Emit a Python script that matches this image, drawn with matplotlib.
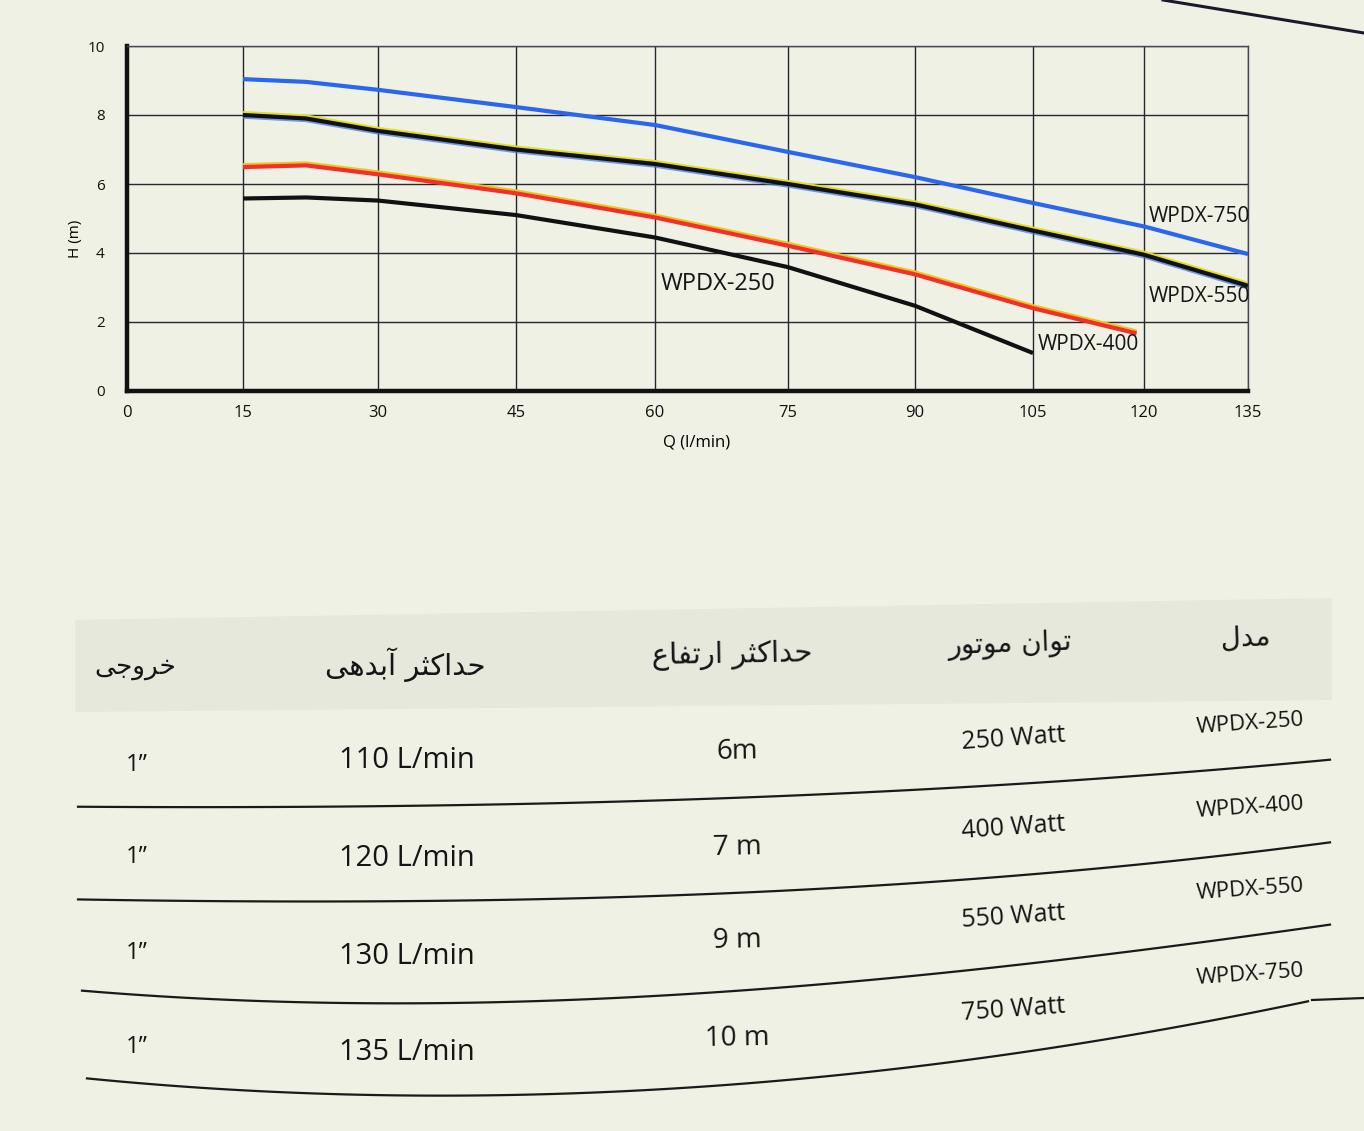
import matplotlib
matplotlib.use('Agg')
import numpy as np
import matplotlib.pyplot as plt
import matplotlib.patheffects as pe
from matplotlib.lines import Line2D
from matplotlib.patches import Polygon

# ---------------- chart data ----------------
q_250 = [15, 22, 30, 45, 60, 75, 90, 105]
h_250 = [5.58, 5.61, 5.52, 5.10, 4.45, 3.59, 2.47, 1.10]
q_400 = [15, 22, 30, 45, 60, 75, 90, 105, 119]
h_400 = [6.49, 6.54, 6.28, 5.73, 5.03, 4.21, 3.38, 2.40, 1.67]
q_550 = [15, 22, 30, 45, 60, 75, 90, 105, 120, 135]
h_550 = [8.00, 7.90, 7.54, 7.00, 6.58, 6.00, 5.41, 4.65, 3.95, 3.05]
q_750 = [15, 22, 30, 45, 60, 75, 90, 105, 120, 135]
h_750 = [9.04, 8.96, 8.73, 8.23, 7.71, 6.93, 6.20, 5.45, 4.77, 3.97]
x_ticks = [0, 15, 30, 45, 60, 75, 90, 105, 120, 135]
y_ticks = [0, 2, 4, 6, 8, 10]
curve_labels = ['WPDX-250', 'WPDX-400', 'WPDX-550', 'WPDX-750']

# ---------------- table data ----------------
headers = ['مدل', 'توان موتور', 'حداکثر ارتفاع', 'حداکثر آبدهی', 'خروجی']
models = ['WPDX-250', 'WPDX-400', 'WPDX-550', 'WPDX-750']
power = ['250 Watt', '400 Watt', '550 Watt', '750 Watt']
max_head = ['6m', '7 m', '9 m', '10 m']
max_flow = ['110 L/min', '120 L/min', '130 L/min', '135 L/min']
outlet = ['1”', '1”', '1”', '1”']

# ---------------- Persian shaping helper ----------------
FORMS = {
    'ا': ('\uFE8D', '\uFE8E', None, None),
    'آ': ('\uFE81', '\uFE82', None, None),
    'ب': ('\uFE8F', '\uFE90', '\uFE91', '\uFE92'),
    'ت': ('\uFE95', '\uFE96', '\uFE97', '\uFE98'),
    'ث': ('\uFE99', '\uFE9A', '\uFE9B', '\uFE9C'),
    'ج': ('\uFE9D', '\uFE9E', '\uFE9F', '\uFEA0'),
    'ح': ('\uFEA1', '\uFEA2', '\uFEA3', '\uFEA4'),
    'خ': ('\uFEA5', '\uFEA6', '\uFEA7', '\uFEA8'),
    'د': ('\uFEA9', '\uFEAA', None, None),
    'ر': ('\uFEAD', '\uFEAE', None, None),
    'ع': ('\uFEC9', '\uFECA', '\uFECB', '\uFECC'),
    'ف': ('\uFED1', '\uFED2', '\uFED3', '\uFED4'),
    'ل': ('\uFEDD', '\uFEDE', '\uFEDF', '\uFEE0'),
    'م': ('\uFEE1', '\uFEE2', '\uFEE3', '\uFEE4'),
    'ن': ('\uFEE5', '\uFEE6', '\uFEE7', '\uFEE8'),
    'ه': ('\uFEE9', '\uFEEA', '\uFEEB', '\uFEEC'),
    'و': ('\uFEED', '\uFEEE', None, None),
    'ک': ('\uFB8E', '\uFB8F', '\uFB90', '\uFB91'),
    'ی': ('\uFBFC', '\uFBFD', '\uFBFE', '\uFBFF'),
}
RIGHT_ONLY = set('اآدذرزژو')


def shape(text):
    out = []
    n = len(text)
    for i, ch in enumerate(text):
        if ch not in FORMS:
            out.append(ch)
            continue
        prev = text[i - 1] if i > 0 else ''
        nxt = text[i + 1] if i < n - 1 else ''
        jp = prev in FORMS and prev not in RIGHT_ONLY
        jn = ch not in RIGHT_ONLY and nxt in FORMS
        iso, fin, ini, med = FORMS[ch]
        if jp and jn:
            g = med
        elif jp:
            g = fin
        elif jn:
            g = ini
        else:
            g = iso
        out.append(g)
    return ''.join(reversed(out))


# ---------------- figure ----------------
W, H = 1364, 1131
BG = '#eef1e3'
LATIN = ['Open Sans', 'DejaVu Sans']
fig = plt.figure(figsize=(W / 100, H / 100), dpi=100, facecolor=BG)


def fx(x):
    return x / W


def fy(y):
    return 1 - y / H


AX_L, AX_R, AX_T, AX_B = 127, 1248, 46, 391
ax = fig.add_axes([fx(AX_L), fy(AX_B), fx(AX_R) - fx(AX_L), fy(AX_T) - fy(AX_B)])
ax.set_facecolor(BG)

# printed grid spacing (uneven columns as on the page)
grid_px = np.array([127, 243, 378, 516, 655, 788, 915, 1033, 1144, 1248], dtype=float)
tick_arr = np.array(x_ticks, dtype=float)
ax.set_xscale('function', functions=(lambda q: np.interp(q, tick_arr, grid_px),
                                     lambda p: np.interp(p, grid_px, tick_arr)))
ax.set_xlim(0, 135)
ax.set_ylim(0, 10)
ax.set_xticks(x_ticks)
ax.set_yticks(y_ticks)
ax.set_xticklabels([str(v) for v in x_ticks], fontsize=12, family=LATIN)
ax.set_yticklabels([str(v) for v in y_ticks], fontsize=11, family=LATIN)
ax.minorticks_off()
ax.tick_params(axis='both', which='both', length=0, colors='#111111')
ax.tick_params(axis='x', pad=10)
ax.tick_params(axis='y', pad=16)
ax.grid(True, color='#2a2630', lw=1.0)
ax.set_axisbelow(True)
for s in ['left', 'bottom']:
    ax.spines[s].set_linewidth(3.2)
    ax.spines[s].set_color('#111111')
for s in ['top', 'right']:
    ax.spines[s].set_linewidth(1.0)
    ax.spines[s].set_color('#4a4458')
ax.set_xlabel('Q (l/min)', fontsize=12, family=LATIN)
ax.set_ylabel('H (m)', fontsize=11, family=LATIN)
ax.xaxis.set_label_coords(0.508, -0.125)
ax.yaxis.set_label_coords(-0.039, 0.44)

ax.plot(q_750, h_750, color='#2a66ee', lw=3.0, solid_capstyle='butt')
ax.plot(q_550, h_550, color='#111111', lw=3.0, solid_capstyle='butt',
        path_effects=[pe.SimpleLineShadow(offset=(0, 1.4), shadow_color='#e2dc2a', alpha=1),
                      pe.SimpleLineShadow(offset=(0, -1.2), shadow_color='#3a70e8', alpha=0.7),
                      pe.Normal()])
ax.plot(q_400, h_400, color='#f0302a', lw=3.0, solid_capstyle='butt',
        path_effects=[pe.SimpleLineShadow(offset=(0, 1.4), shadow_color='#f2c41b', alpha=1),
                      pe.Normal()])
ax.plot(q_250, h_250, color='#111111', lw=3.0, solid_capstyle='butt')

label_pos = [(60.6, 3.1, 17), (105.6, 1.35, 15), (120.7, 2.75, 15), (120.7, 5.05, 15)]
for lab, (lx, ly, fs) in zip(curve_labels, label_pos):
    ax.text(lx, ly, lab, fontsize=fs, family=LATIN, color='#151515', ha='left', va='center')

# ---------------- table ----------------
band = Polygon([(fx(75), fy(620)), (fx(1332), fy(598)), (fx(1332), fy(700)), (fx(75), fy(712))],
               closed=True, transform=fig.transFigure, facecolor='#e6e8dc', edgecolor='none')
fig.patches.append(band)

header_x = [1245, 1010, 732, 405, 135]
header_y = [638, 645, 655, 665, 667]
header_rot = [2, 2, 1, 0, 0]
header_fs = [20, 20, 21, 21, 19]
for txt, x, y, r, fs in zip(headers, header_x, header_y, header_rot, header_fs):
    fig.text(fx(x), fy(y), shape(txt), fontsize=fs, family=['DejaVu Sans'],
             ha='center', va='center', rotation=r, color='#151515')

col_x = [137, 407, 737, 1013, 1250]
row_y = [[765, 760, 752, 739, 724],
         [857, 858, 848, 828, 808],
         [953, 956, 941, 917, 890],
         [1047, 1053, 1038, 1010, 975]]
col_rot = [0, 0, 1, 4, 4]
col_fs = [17, 21, 20, 18, 16]
columns = [outlet, max_flow, max_head, power, models]
for j, col in enumerate(columns):
    for i, val in enumerate(col):
        fig.text(fx(col_x[j]), fy(row_y[i][j]), val, fontsize=col_fs[j], family=LATIN,
                 ha='center', va='center', rotation=col_rot[j], color='#151515')

# printed row separators (gently bowed on the page)
row_lines = [[(78, 807), (390, 805), (720, 800), (1030, 782), (1330, 760)],
             [(78, 900), (390, 899), (720, 897), (1030, 872), (1330, 843)],
             [(82, 991), (390, 1002), (720, 994), (1030, 962), (1330, 925)],
             [(87, 1079), (390, 1093), (720, 1089), (1020, 1050), (1308, 1002)]]
for pts in row_lines:
    px_ = np.array([p[0] for p in pts], dtype=float)
    py_ = np.array([p[1] for p in pts], dtype=float)
    coef = np.polyfit(px_, py_, 3)
    xs = np.linspace(px_[0], px_[-1], 120)
    ys = np.polyval(coef, xs)
    fig.add_artist(Line2D(fx(xs), fy(ys), transform=fig.transFigure, color='#1a1a1a', lw=1.6))
fig.add_artist(Line2D([fx(1312), fx(1364)], [fy(1000), fy(998)], transform=fig.transFigure,
                      color='#1a1a1a', lw=1.6))
fig.add_artist(Line2D([fx(1163), fx(1364)], [fy(0), fy(33)], transform=fig.transFigure,
                      color='#1a1a2a', lw=2.2))

fig.savefig('out.png', dpi=100, facecolor=BG)
